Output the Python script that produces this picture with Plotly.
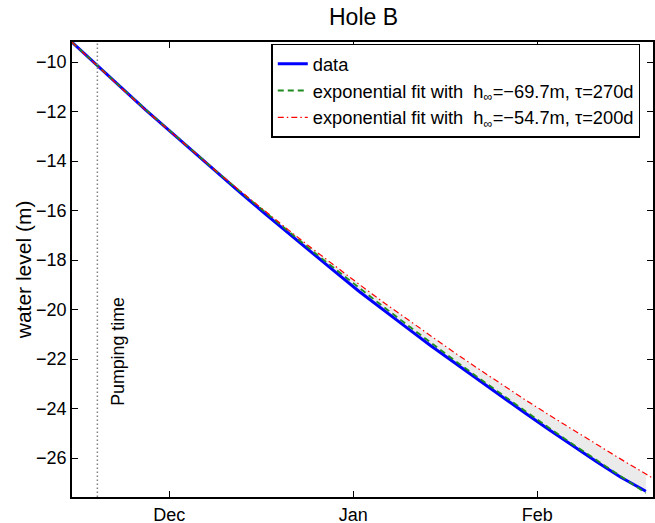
import plotly.graph_objects as go

# ---------------- data ----------------
data_dates = ["2002-11-14 14:24", "2002-11-19", "2002-11-23", "2002-11-27",
              "2002-12-01", "2002-12-05", "2002-12-09", "2002-12-13",
              "2002-12-17", "2002-12-21", "2002-12-25", "2002-12-29",
              "2003-01-02", "2003-01-06", "2003-01-10", "2003-01-14",
              "2003-01-18", "2003-01-22", "2003-01-26", "2003-01-30",
              "2003-02-03", "2003-02-07", "2003-02-11", "2003-02-15",
              "2003-02-19 07:12"]
data_level = [-9.20, -10.18, -11.05, -11.93, -12.77, -13.62, -14.46, -15.28,
              -16.10, -16.90, -17.71, -18.49, -19.27, -20.01, -20.73, -21.45,
              -22.14, -22.83, -23.52, -24.19, -24.85, -25.51, -26.15, -26.76,
              -27.34]
fit1_level = [-9.20, -10.18, -11.05, -11.92, -12.76, -13.60, -14.43, -15.24,
              -16.04, -16.83, -17.61, -18.37, -19.13, -19.87, -20.60, -21.33,
              -22.04, -22.74, -23.43, -24.11, -24.78, -25.44, -26.09, -26.73,
              -27.41]
fit2_dates = data_dates + ["2003-02-20 12:00"]
fit2_level = [-9.20, -10.19, -11.07, -11.94, -12.78, -13.61, -14.43, -15.22,
              -16.00, -16.77, -17.52, -18.26, -18.98, -19.69, -20.38, -21.06,
              -21.73, -22.38, -23.02, -23.65, -24.26, -24.86, -25.45, -26.03,
              -26.64, -26.81]

pump_time = "2002-11-18 21:00"
pump_label_pos = ("2002-11-22 09:00", -21.7)

x_range = ["2002-11-14 14:24", "2003-02-20 12:00"]
y_range = [-27.57, -9.19]
x_tickvals = ["2002-12-01", "2003-01-01", "2003-02-01"]
x_ticktext = ["Dec", "Jan", "Feb"]
y_tickvals = [-26, -24, -22, -20, -18, -16, -14, -12, -10]
y_ticktext = ["\u221226", "\u221224", "\u221222", "\u221220", "\u221218",
              "\u221216", "\u221214", "\u221212", "\u221210"]

legend_names = [
    "data",
    "exponential fit with\u00a0\u00a0h<sub>\u221e</sub>=\u221269.7m, \u03c4=270d",
    "exponential fit with\u00a0\u00a0h<sub>\u221e</sub>=\u221254.7m, \u03c4=200d",
]

FONT = "Liberation Sans, Arial, Helvetica, sans-serif"

fig = go.Figure()

# shaded band between data and second fit
n = len(data_dates)
fig.add_trace(go.Scatter(
    x=data_dates + data_dates[::-1],
    y=data_level + fit2_level[:n][::-1],
    fill="toself", fillcolor="rgb(235,235,235)",
    line=dict(width=0), mode="lines", showlegend=False, hoverinfo="skip"))

fig.add_trace(go.Scatter(x=data_dates, y=data_level, mode="lines",
                         name=legend_names[0],
                         line=dict(color="#0000ff", width=3)))
fig.add_trace(go.Scatter(x=data_dates, y=fit1_level, mode="lines",
                         name=legend_names[1],
                         line=dict(color="rgb(30,140,30)", width=1.8,
                                   dash="6px,4px")))
fig.add_trace(go.Scatter(x=fit2_dates, y=fit2_level, mode="lines",
                         name=legend_names[2],
                         line=dict(color="#ff0000", width=1.2,
                                   dash="6px,3px,1.5px,3px")))

fig.add_shape(type="line", xref="x", yref="paper",
              x0=pump_time, x1=pump_time, y0=0, y1=1,
              line=dict(color="#808080", width=1.5, dash="1.5px,2.5px"))

fig.add_annotation(x=pump_label_pos[0], y=pump_label_pos[1], xref="x", yref="y",
                   text="Pumping time", textangle=-90, showarrow=False,
                   font=dict(family=FONT, size=17.8, color="black"))

fig.add_annotation(x=-0.083, y=0.5, xref="paper", yref="paper",
                   text="water level (m)", textangle=-90, showarrow=False,
                   xanchor="center", yanchor="middle",
                   font=dict(family=FONT, size=21, color="black"))

axis_common = dict(showline=True, linecolor="black", linewidth=1.8,
                   mirror="ticks", ticks="inside", ticklen=6,
                   tickcolor="black", tickwidth=1.2, showgrid=False,
                   zeroline=False,
                   tickfont=dict(family=FONT, size=18, color="black"))

fig.update_layout(
    width=655, height=523,
    template="none",
    paper_bgcolor="white", plot_bgcolor="white",
    margin=dict(l=72, r=2, t=42, b=26),
    title=dict(text="Hole B", x=0.555, xanchor="center",
               y=1 - 17 / 523, yanchor="middle", yref="container",
               font=dict(family=FONT, size=23, color="black")),
    xaxis=dict(type="date", range=x_range, tickmode="array",
               tickvals=x_tickvals, ticktext=x_ticktext, **axis_common),
    yaxis=dict(range=y_range, tickmode="array",
               tickvals=y_tickvals, ticktext=y_ticktext, **axis_common),
    legend=dict(x=0.343, y=0.996, xanchor="left", yanchor="top",
                bgcolor="white", bordercolor="black", borderwidth=1.5,
                font=dict(family=FONT, size=18.3, color="black"),
                tracegroupgap=0, itemwidth=30),
    showlegend=True,
)

fig.write_html("out.html", config={"displayModeBar": False},
               post_script="document.body.style.margin='0px';")
